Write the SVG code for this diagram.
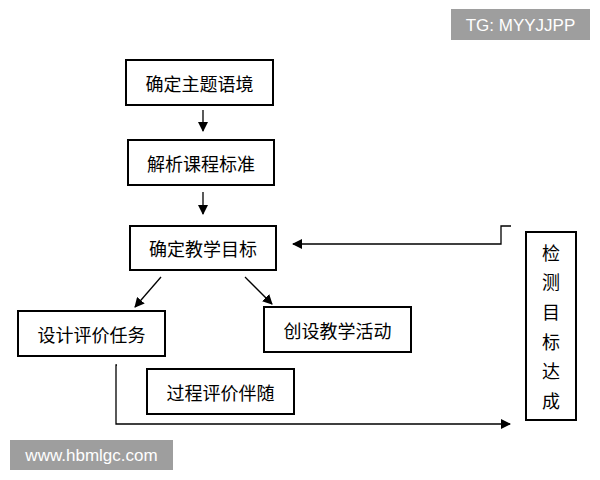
<svg xmlns="http://www.w3.org/2000/svg" width="600" height="480" viewBox="0 0 600 480">
<defs>
<style>
.n{fill:#fff;stroke:#000;stroke-width:2}
.t{font-family:"Noto Sans CJK SC",sans-serif;font-size:18px;fill:#000;text-anchor:middle;dominant-baseline:central}
.c{fill:none;stroke:#000;stroke-width:1.3}
.w{font-family:"Liberation Sans",sans-serif;font-size:17px;fill:#fff;text-anchor:middle;dominant-baseline:central}
</style>
<marker id="a" markerWidth="10" markerHeight="10" refX="9" refY="5" orient="auto" markerUnits="userSpaceOnUse"><path d="M0,0 L10,5 L0,10 Z" fill="#000"/></marker>
</defs>
<rect width="600" height="480" fill="#fff"/>
<g id="connectors">
<line class="c" x1="203" y1="110" x2="203" y2="131" marker-end="url(#a)"/>
<line class="c" x1="203" y1="192" x2="203" y2="214" marker-end="url(#a)"/>
<polyline class="c" points="511,226 501,226 501,244 293,244" marker-end="url(#a)"/>
<line class="c" x1="161" y1="277" x2="135" y2="307" marker-end="url(#a)"/>
<line class="c" x1="245" y1="277" x2="272" y2="304" marker-end="url(#a)"/>
<polyline class="c" points="117,365 116,365 116,424 510,424" marker-end="url(#a)"/>
</g>
<g id="n1"><rect class="n" x="126" y="60" width="147" height="45"/><text class="t" x="199.5" y="82.5">确定主题语境</text></g>
<g id="n2"><rect class="n" x="128" y="140" width="146" height="45"/><text class="t" x="201" y="162.5">解析课程标准</text></g>
<g id="n3"><rect class="n" x="130" y="226" width="146" height="44"/><text class="t" x="203" y="248">确定教学目标</text></g>
<g id="n4"><rect class="n" x="18" y="311" width="147" height="45"/><text class="t" x="91.5" y="333.5">设计评价任务</text></g>
<g id="n5"><rect class="n" x="264" y="307" width="147" height="45"/><text class="t" x="337.5" y="329.5">创设教学活动</text></g>
<g id="n6"><rect class="n" x="147" y="369" width="147" height="45"/><text class="t" x="220.5" y="391.5">过程评价伴随</text></g>
<g id="n7"><rect class="n" x="526" y="232" width="50" height="188"/>
<text class="t" x="551" y="252">检</text><text class="t" x="551" y="281">测</text><text class="t" x="551" y="311">目</text><text class="t" x="551" y="341">标</text><text class="t" x="551" y="370">达</text><text class="t" x="551" y="400">成</text></g>
<g id="wm1"><rect x="451" y="9" width="139" height="31" fill="#9e9e9e"/><text class="w" x="520.5" y="25">TG: MYYJJPP</text></g>
<g id="wm2"><rect x="10" y="440" width="163" height="30" fill="#9e9e9e"/><text class="w" x="91.5" y="455">www.hbmlgc.com</text></g>
</svg>
